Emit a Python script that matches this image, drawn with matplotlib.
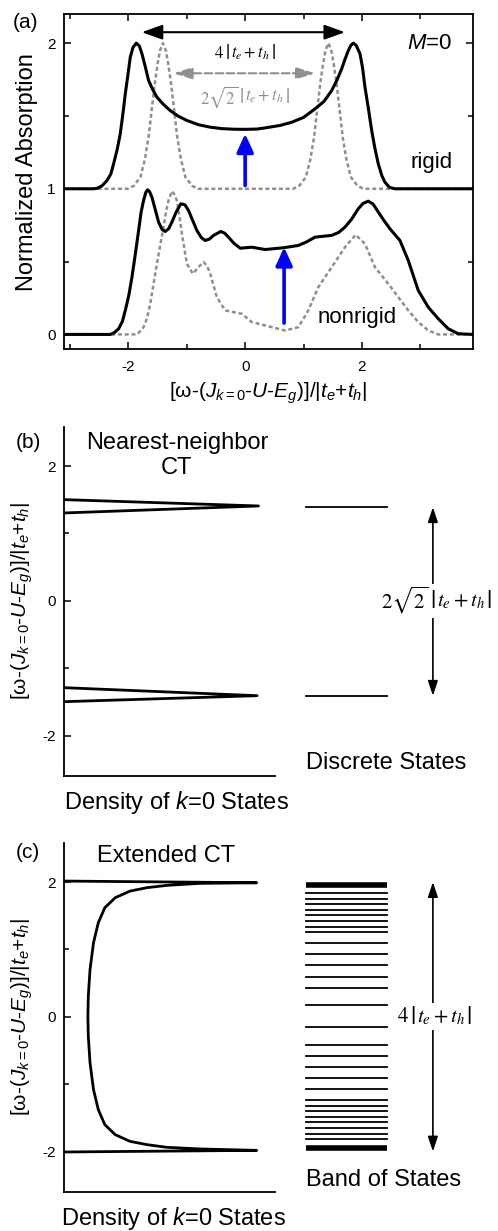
import matplotlib
matplotlib.use("Agg")
import matplotlib.pyplot as plt
from matplotlib.offsetbox import TextArea, HPacker, AnnotationBbox

plt.rcParams['font.family'] = ['Liberation Sans', 'DejaVu Sans']
plt.rcParams['mathtext.fontset'] = 'custom'
plt.rcParams['mathtext.rm'] = 'Liberation Sans'
plt.rcParams['mathtext.it'] = 'Liberation Sans:italic'
plt.rcParams['mathtext.bf'] = 'Liberation Sans:bold'
plt.rcParams['axes.unicode_minus'] = False

# ---------------- data: panel (a) ----------------
rigid_x = [-3.1, -2.6, -2.535, -2.45, -2.364, -2.30, -2.251, -2.19, -2.137, -2.09, -2.051, -2.00,
           -1.966, -1.92, -1.863, -1.81, -1.766, -1.71, -1.652, -1.58, -1.51, -1.40, -1.282, -1.15,
           -0.997, -0.8, -0.598, -0.4, -0.2, 0.0, 0.2, 0.342, 0.6, 0.798, 1.0, 1.197, 1.35, 1.482,
           1.57, 1.653, 1.71, 1.766, 1.81, 1.851, 1.90, 1.966, 2.01, 2.051, 2.11, 2.166, 2.22,
           2.279, 2.34, 2.393, 2.47, 2.564, 3.9]
rigid_y = [1.0, 1.0, 1.003, 1.02, 1.057, 1.10, 1.171, 1.27, 1.377, 1.52, 1.652, 1.80,
           1.903, 1.97, 2.0, 1.98, 1.927, 1.84, 1.743, 1.68, 1.629, 1.58, 1.537, 1.50,
           1.469, 1.44, 1.423, 1.413, 1.409, 1.408, 1.41, 1.418, 1.435, 1.457, 1.49, 1.549, 1.60, 1.675,
           1.745, 1.824, 1.89, 1.949, 1.985, 2.0, 1.985, 1.927, 1.83, 1.698, 1.55, 1.40, 1.28,
           1.171, 1.09, 1.045, 1.01, 1.0, 1.0]

rigid_nn_x = [-3.1, -2.007, -1.907, -1.792, -1.717, -1.652, -1.597, -1.547, -1.497, -1.457, -1.407,
              -1.357, -1.317, -1.267, -1.217, -1.162, -1.097, -1.022, -0.907, -0.807,
              0.825, 0.925, 1.04, 1.115, 1.18, 1.235, 1.285, 1.335, 1.375, 1.425,
              1.475, 1.515, 1.565, 1.615, 1.67, 1.735, 1.81, 1.925, 2.025, 3.9]
rigid_nn_y = [1.0, 1.0, 1.02, 1.08, 1.2, 1.354, 1.55, 1.72, 1.86, 1.95, 2.0,
              1.95, 1.86, 1.72, 1.55, 1.354, 1.2, 1.08, 1.02, 1.0,
              1.0, 1.02, 1.08, 1.2, 1.354, 1.55, 1.72, 1.86, 1.95, 2.0,
              1.95, 1.86, 1.72, 1.55, 1.354, 1.2, 1.08, 1.02, 1.0, 1.0]

nonrigid_x = [-3.1, -2.308, -2.24, -2.165, -2.10, -2.051, -1.99, -1.937, -1.88, -1.823, -1.78,
              -1.738, -1.70, -1.670, -1.635, -1.595, -1.54, -1.481, -1.42, -1.368, -1.31, -1.253,
              -1.18, -1.1, -1.03, -0.969, -0.826, -0.75, -0.684, -0.61, -0.541, -0.416, -0.35,
              -0.285, -0.19, -0.085, 0.114, 0.342, 0.655, 0.912, 1.05, 1.197, 1.482, 1.60, 1.709,
              1.82, 1.937, 2.02, 2.108, 2.19, 2.279, 2.38, 2.479, 2.65, 2.792, 2.963, 3.134,
              3.305, 3.476, 3.647, 3.9]
nonrigid_y = [0, 0, 0.012, 0.039, 0.09, 0.165, 0.27, 0.393, 0.55, 0.714, 0.84,
              0.92, 0.975, 0.993, 0.98, 0.942, 0.86, 0.771, 0.72, 0.707, 0.725, 0.771,
              0.84, 0.897, 0.89, 0.851, 0.714, 0.665, 0.645, 0.655, 0.680, 0.707, 0.695,
              0.668, 0.625, 0.592, 0.599, 0.583, 0.595, 0.611, 0.635, 0.668, 0.68, 0.70, 0.737,
              0.79, 0.863, 0.9, 0.915, 0.895, 0.84, 0.78, 0.725, 0.645, 0.508, 0.302, 0.187,
              0.108, 0.039, 0.005, 0]

nonrigid_nn_x = [-3.1, -1.852, -1.80, -1.738, -1.68, -1.624, -1.57, -1.51, -1.45, -1.396, -1.35,
                 -1.311, -1.253, -1.21, -1.168, -1.12, -1.082, -0.997, -0.894, -0.798, -0.712,
                 -0.65, -0.598, -0.484, -0.342, -0.2, -0.057, 0.114, 0.342, 0.684, 0.912, 1.082,
                 1.253, 1.482, 1.709, 1.892, 2.051, 2.222, 2.45, 2.621, 2.792, 2.963, 3.134,
                 3.305, 3.9]
nonrigid_nn_y = [0, 0, 0.02, 0.05, 0.11, 0.21, 0.34, 0.485, 0.62, 0.737, 0.85,
                 0.92, 0.984, 0.96, 0.92, 0.8, 0.691, 0.485, 0.417, 0.462, 0.497,
                 0.47, 0.417, 0.256, 0.165, 0.153, 0.142, 0.085, 0.062, 0.027, 0.05, 0.165,
                 0.325, 0.462, 0.599, 0.684, 0.622, 0.462, 0.348, 0.256, 0.165, 0.085, 0.027,
                 0, 0]

a_xticks = [-2, 0, 2]
a_xminor = [-3, -1, 1, 3]
a_yticks = [0, 1, 2]
a_yminor = [0.5, 1.5]

# ---------------- data: panel (b) ----------------
nn_dos_upper_x = [0.0, 0.448, 0.0]
nn_dos_upper_y = [1.502, 1.408, 1.304]
nn_dos_lower_x = [0.0, 0.445, 0.0]
nn_dos_lower_y = [-1.289, -1.408, -1.497]
discrete_levels = [1.39, -1.41]

# ---------------- data: panel (c) ----------------
ext_dos_x = [0.002, 0.444, 0.313, 0.237, 0.191, 0.152, 0.118, 0.094, 0.079, 0.068, 0.060, 0.056, 0.055,
             0.056, 0.060, 0.068, 0.079, 0.094, 0.118, 0.152, 0.191, 0.237, 0.313, 0.444, 0.002]
ext_dos_y = [2.015, 1.99, 1.981, 1.951, 1.917, 1.866, 1.768, 1.619, 1.396, 1.10, 0.703, 0.306, 0.009,
             -0.288, -0.684, -1.08, -1.377, -1.60, -1.749, -1.848, -1.897, -1.937, -1.961, -1.982, -2.006]
band_levels = [1.832, 1.753, 1.674, 1.584, 1.505, 1.421, 1.337, 1.258, 1.089, 0.926, 0.762,
               0.594, 0.430, 0.173, -0.149, -0.412, -0.585, -0.749, -0.912, -1.075, -1.239,
               -1.318, -1.402, -1.486, -1.566, -1.650, -1.734, -1.813]
band_edges = [1.95, -1.94]
bc_yticks = [-2, 0, 2]
bc_yminor = [-1, 1]

W, H = 498, 1231
fig = plt.figure(figsize=(W / 100, H / 100), dpi=100)

def fx(px):
    return px / W

def fy(py):
    return 1 - py / H

GRAY = '#8f8f8f'
SPW = 1.3


def serif_formula(ax, x, y, prefix, fs, bar_fs, color='black', white=False):
    props = dict(fontsize=fs, color=color, math_fontfamily='stix')
    bprops = dict(fontsize=bar_fs, color=color, math_fontfamily='stix')
    kids = [TextArea(prefix, textprops=props),
            TextArea(r'$|$', textprops=bprops),
            TextArea(r'$t_e+t_h$', textprops=props),
            TextArea(r'$|$', textprops=bprops)]
    pack = HPacker(children=kids, align='center', pad=0, sep=0.8)
    ab = AnnotationBbox(pack, (x, y), xycoords='data', frameon=white,
                        box_alignment=(0.5, 0.5), pad=0.1,
                        bboxprops=dict(facecolor='white', edgecolor='none'))
    ax.add_artist(ab)


# ================= panel (a) =================
axa = fig.add_axes([fx(64), fy(349), fx(473 - 64), (349 - 14) / H])
axa.plot(rigid_nn_x, rigid_nn_y, color=GRAY, lw=1.8, ls=(0, (1.6, 1.1)))
axa.plot(nonrigid_nn_x, nonrigid_nn_y, color=GRAY, lw=1.8, ls=(0, (1.6, 1.1)))
axa.plot(rigid_x, rigid_y, color='black', lw=2.2)
axa.plot(nonrigid_x, nonrigid_y, color='black', lw=2.2)
axa.set_xlim(-3.1, 3.9)
axa.set_ylim(-0.1, 2.2)
axa.set_xticks(a_xticks)
axa.set_xticks(a_xminor, minor=True)
axa.set_yticks(a_yticks)
axa.set_yticks(a_yminor, minor=True)
axa.tick_params(which='both', direction='in', top=True, right=True, labelsize=11, width=1.1)
axa.tick_params(which='major', length=5)
axa.tick_params(which='minor', length=3.5)
axa.tick_params(axis='x', pad=8)
axa.tick_params(axis='y', pad=6)
for s in axa.spines.values():
    s.set_linewidth(SPW)

axa.annotate('', xy=(-1.77, 2.075), xytext=(1.71, 2.075),
             arrowprops=dict(arrowstyle='<|-|>,head_length=0.7,head_width=0.25',
                             mutation_scale=18, lw=1.5, color='black', shrinkA=0, shrinkB=0))
serif_formula(axa, 0.0, 1.93, r'$4$', 12, 15)
axa.annotate('', xy=(-1.225, 1.793), xytext=(1.197, 1.793),
             arrowprops=dict(arrowstyle='<|-|>,head_length=0.7,head_width=0.22',
                             mutation_scale=16, lw=1.5, color=GRAY, ls='--',
                             shrinkA=0, shrinkB=0))
serif_formula(axa, 0.0, 1.63, r'$2\sqrt{2}$', 12, 15, color=GRAY)
axa.annotate('', xy=(0.0, 1.378), xytext=(0.0, 1.023),
             arrowprops=dict(arrowstyle='-|>,head_length=0.55,head_width=0.25',
                             mutation_scale=20, lw=2.6, color='#0000ff', shrinkA=0, shrinkB=0))
axa.annotate('', xy=(0.667, 0.599), xytext=(0.667, 0.078),
             arrowprops=dict(arrowstyle='-|>,head_length=0.55,head_width=0.25',
                             mutation_scale=20, lw=2.6, color='#0000ff', shrinkA=0, shrinkB=0))
axa.text(3.16, 2.0, r'$M$=0', fontsize=16, ha='center', va='center')
axa.text(3.19, 1.183, 'rigid', fontsize=16, ha='center', va='center')
axa.text(1.91, 0.119, 'nonrigid', fontsize=16, ha='center', va='center')

fig.text(fx(25), fy(22), '(a)', fontsize=15, ha='center', va='center')
fig.text(fx(27), fy(172), 'Normalized Absorption', fontsize=17, rotation=90,
         ha='center', va='center')
ylab = '[ω-($J_{k=0}$-$U$-$E_g$)]/|$t_e$+$t_h$|'
fig.text(fx(268), fy(393), ylab, fontsize=15, ha='center', va='center')

# ================= panels (b) and (c) =================
def setup_bc(ax):
    ax.set_xlim(0, 1)
    ax.set_ylim(-2.6, 2.58)
    ax.spines['top'].set_visible(False)
    ax.spines['right'].set_visible(False)
    ax.spines['bottom'].set_bounds(0, 0.486)
    for s in ax.spines.values():
        s.set_linewidth(SPW)
    ax.set_xticks([])
    ax.set_yticks(bc_yticks)
    ax.set_yticks(bc_yminor, minor=True)
    ax.tick_params(axis='y', which='both', direction='in', labelsize=11, width=1.1, pad=6)
    ax.tick_params(axis='y', which='major', length=5)
    ax.tick_params(axis='y', which='minor', length=3.5)

axb = fig.add_axes([fx(64), fy(776), fx(434), 349 / H])
setup_bc(axb)
axb.plot(nn_dos_upper_x, nn_dos_upper_y, color='black', lw=2.0)
axb.plot(nn_dos_lower_x, nn_dos_lower_y, color='black', lw=2.0)
for lev in discrete_levels:
    axb.plot([0.558, 0.745], [lev, lev], color='black', lw=1.3)
axb.annotate('', xy=(0.85, discrete_levels[0]), xytext=(0.85, discrete_levels[1]),
             arrowprops=dict(arrowstyle='<|-|>,head_length=0.6,head_width=0.2',
                             mutation_scale=15, lw=1.2, color='black', shrinkA=0, shrinkB=0))
serif_formula(axb, 0.858, 0.0, r'$2\sqrt{2}$', 15, 19, white=True)
axb.text(0.26, 2.155, 'Nearest-neighbor\nCT', fontsize=17, ha='center', va='center',
         linespacing=1.15)
axb.text(0.558, -2.41, 'Discrete States', fontsize=17, ha='left', va='center')
fig.text(fx(28), fy(442), '(b)', fontsize=15, ha='center', va='center')
fig.text(fx(22), fy(601), ylab, fontsize=15, rotation=90, ha='center', va='center')
fig.text(fx(176), fy(803), 'Density of $k$=0 States', fontsize=17, ha='center', va='center')

axc = fig.add_axes([fx(64), fy(1192), fx(434), 349 / H])
setup_bc(axc)
axc.plot(ext_dos_x, ext_dos_y, color='black', lw=2.0)
for lev in band_levels:
    axc.plot([0.558, 0.745], [lev, lev], color='black', lw=1.3)
for lev in band_edges:
    axc.plot([0.558, 0.745], [lev, lev], color='black', lw=4.0, solid_capstyle='butt')
axc.annotate('', xy=(0.85, 2.0), xytext=(0.85, -2.0),
             arrowprops=dict(arrowstyle='<|-|>,head_length=0.6,head_width=0.2',
                             mutation_scale=15, lw=1.2, color='black', shrinkA=0, shrinkB=0))
serif_formula(axc, 0.853, 0.0, r'$4$', 15, 19, white=True)
axc.text(0.236, 2.39, 'Extended CT', fontsize=17, ha='center', va='center')
axc.text(0.558, -2.42, 'Band of States', fontsize=17, ha='left', va='center')
fig.text(fx(28), fy(853), '(c)', fontsize=15, ha='center', va='center')
fig.text(fx(22), fy(1017), ylab, fontsize=15, rotation=90, ha='center', va='center')
fig.text(fx(173), fy(1218), 'Density of $k$=0 States', fontsize=17, ha='center', va='center')

fig.savefig('out.png', dpi=100)
